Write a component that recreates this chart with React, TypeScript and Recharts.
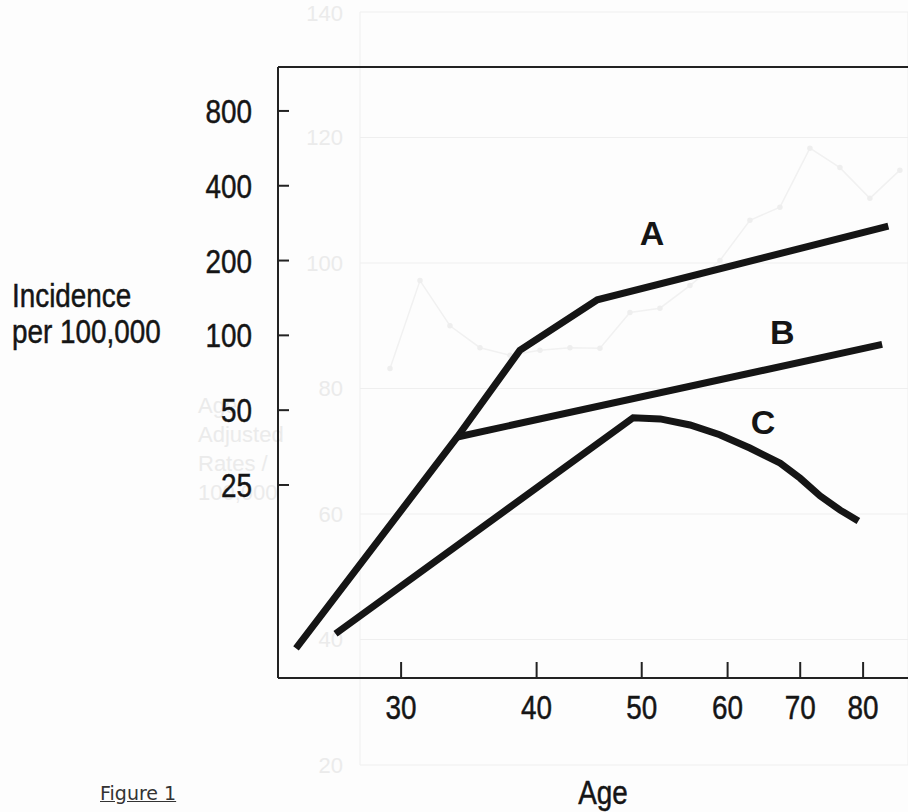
import {
  CartesianGrid,
  Label,
  Line,
  LineChart,
  ReferenceDot,
  ReferenceLine,
  XAxis,
  YAxis,
} from "recharts";

// values (log-log axes)
const ageTicks = [30, 40, 50, 60, 70, 80];
const rateTicks = [25, 50, 100, 200, 400, 800];

const curveA = [
  { age: 24, rate: 5.5 },
  { age: 33.8, rate: 39 },
  { age: 38.6, rate: 87 },
  { age: 45.5, rate: 139 },
  { age: 84.4, rate: 275 },
];

const curveB = [
  { age: 33.8, rate: 39 },
  { age: 83.3, rate: 92 },
];

const curveC = [
  { age: 26.1, rate: 6.3 },
  { age: 49.1, rate: 46.6 },
  { age: 52.0, rate: 46.1 },
  { age: 55.4, rate: 43.6 },
  { age: 59.0, rate: 39.8 },
  { age: 62.9, rate: 35.2 },
  { age: 67.1, rate: 30.6 },
  { age: 70.0, rate: 26.6 },
  { age: 73.0, rate: 22.6 },
  { age: 76.2, rate: 19.8 },
  { age: 79.2, rate: 17.9 },
];

const curveLabels = [
  { name: "A", age: 51.1, rate: 258 },
  { name: "B", age: 67.4, rate: 103 },
  { name: "C", age: 64.7, rate: 45 },
];

// faint chart bleeding through from the other side of the page
const ghostTicks = [20, 40, 60, 80, 100, 120, 140];
const ghostCols = [0, 1, 2, 3, 4, 5, 6, 7, 8, 9, 10, 11, 12, 13, 14, 15, 16, 17, 18];
const ghostRates = [
  83.2, 97.2, 90.0, 86.5, 85.3, 86.1, 86.5, 86.4, 92.1, 92.8, 96.4, 100.4,
  106.8, 108.9, 118.3, 115.2, 110.3, 114.8,
];
const ghostNote = ["Age", "Adjusted", "Rates /", "100,000"];

const ghostData = ghostRates.map((rate, i) => ({ col: i + 1, rate }));

const SANS = "'Liberation Sans', Arial, sans-serif";
const INK = "#151515";
const GHOST = "#ebebeb";
const FS = 34;
const SQUEEZE = 0.82; // the scan uses a condensed face

function NarrowText({
  x,
  y,
  anchor,
  children,
}: {
  x: number;
  y: number;
  anchor: "start" | "middle" | "end";
  children: React.ReactNode;
}) {
  return (
    <text
      transform={`translate(${x},${y}) scale(${SQUEEZE},1)`}
      textAnchor={anchor}
      fontFamily={SANS}
      fontSize={FS}
      fill={INK}
      stroke={INK}
      strokeWidth={0.5}
    >
      {children}
    </text>
  );
}

function AgeTick(props: any) {
  const { x, y, payload } = props;
  return (
    <NarrowText x={x} y={y + FS * 0.71} anchor="middle">
      {payload.value}
    </NarrowText>
  );
}

function RateTick(props: any) {
  const { x, y, payload } = props;
  return (
    <NarrowText x={x} y={y + FS * 0.355} anchor="end">
      {payload.value}
    </NarrowText>
  );
}

function GhostChart() {
  return (
    <LineChart
      width={908}
      height={812}
      data={ghostData}
      margin={{ top: 12, right: 0, bottom: 0, left: 0 }}
    >
      <CartesianGrid stroke="#efefef" strokeWidth={1} />
      <XAxis
        type="number"
        dataKey="col"
        domain={[0, 18.27]}
        ticks={ghostCols}
        allowDataOverflow
        height={47}
        tick={false}
        tickLine={false}
        axisLine={false}
      />
      <YAxis
        type="number"
        domain={[20, 140]}
        ticks={ghostTicks}
        width={360}
        tickSize={0}
        tickMargin={17}
        axisLine={false}
        tickLine={false}
        tick={{ fontSize: 22, fill: GHOST, fontFamily: SANS }}
      />
      <Line
        dataKey="rate"
        stroke="#f1f1f1"
        strokeWidth={1.5}
        dot={{ r: 2, fill: "#eeeeee", stroke: "#eeeeee" }}
        isAnimationActive={false}
      />
    </LineChart>
  );
}

export default function App() {
  return (
    <div
      style={{
        position: "absolute",
        left: 0,
        top: 0,
        width: 908,
        height: 812,
        overflow: "hidden",
        background: "#fdfdfd",
      }}
    >
      <div style={{ position: "absolute", left: 0, top: 0 }}>
        <GhostChart />
      </div>
      {ghostNote.map((t, i) => (
        <div
          key={t}
          style={{
            position: "absolute",
            left: 198,
            top: 393 + i * 29,
            fontFamily: SANS,
            fontSize: 22,
            lineHeight: "26px",
            color: GHOST,
          }}
        >
          {t}
        </div>
      ))}
      <div style={{ position: "absolute", left: 0, top: 0 }}>
        <LineChart
          width={908}
          height={812}
          margin={{ top: 67, right: 0, bottom: 0, left: 0 }}
        >
          <XAxis
            type="number"
            dataKey="age"
            scale="log"
            domain={[23.1, 88]}
            ticks={ageTicks}
            interval={0}
            allowDataOverflow
            height={134}
            tickSize={-16}
            tickMargin={33}
            axisLine={{ stroke: "#222", strokeWidth: 2 }}
            tickLine={{ stroke: "#222", strokeWidth: 2 }}
            tick={<AgeTick />}
          >
            <Label
              content={() => (
                <NarrowText x={603} y={804} anchor="middle">
                  Age
                </NarrowText>
              )}
            />
          </XAxis>
          <YAxis
            type="number"
            dataKey="rate"
            scale="log"
            domain={[4.18, 1202]}
            ticks={rateTicks}
            interval={0}
            allowDataOverflow
            width={278}
            tickSize={-11}
            tickMargin={37}
            axisLine={{ stroke: "#222", strokeWidth: 2 }}
            tickLine={{ stroke: "#222", strokeWidth: 2 }}
            tick={<RateTick />}
          >
            <Label
              content={() => (
                <g>
                  <NarrowText x={12} y={307} anchor="start">
                    Incidence
                  </NarrowText>
                  <NarrowText x={12} y={343} anchor="start">
                    per 100,000
                  </NarrowText>
                </g>
              )}
            />
          </YAxis>
          <ReferenceLine y={1202} stroke="#222" strokeWidth={2} />
          <Line
            data={curveA}
            dataKey="rate"
            stroke={INK}
            strokeWidth={7}
            dot={false}
            isAnimationActive={false}
          />
          <Line
            data={curveB}
            dataKey="rate"
            stroke={INK}
            strokeWidth={7}
            dot={false}
            isAnimationActive={false}
          />
          <Line
            data={curveC}
            dataKey="rate"
            stroke={INK}
            strokeWidth={7}
            dot={false}
            isAnimationActive={false}
          />
          {curveLabels.map((c) => (
            <ReferenceDot
              key={c.name}
              x={c.age}
              y={c.rate}
              r={0}
              stroke="none"
              label={{
                value: c.name,
                position: "center",
                fontSize: 34,
                fontWeight: 700,
                fill: INK,
                fontFamily: SANS,
              }}
            />
          ))}
        </LineChart>
      </div>
      <div
        style={{
          position: "absolute",
          left: 100,
          top: 782,
          fontFamily: "'DejaVu Sans', sans-serif",
          fontSize: 19,
          color: "#333",
          textDecoration: "underline",
        }}
      >
        Figure 1
      </div>
    </div>
  );
}
